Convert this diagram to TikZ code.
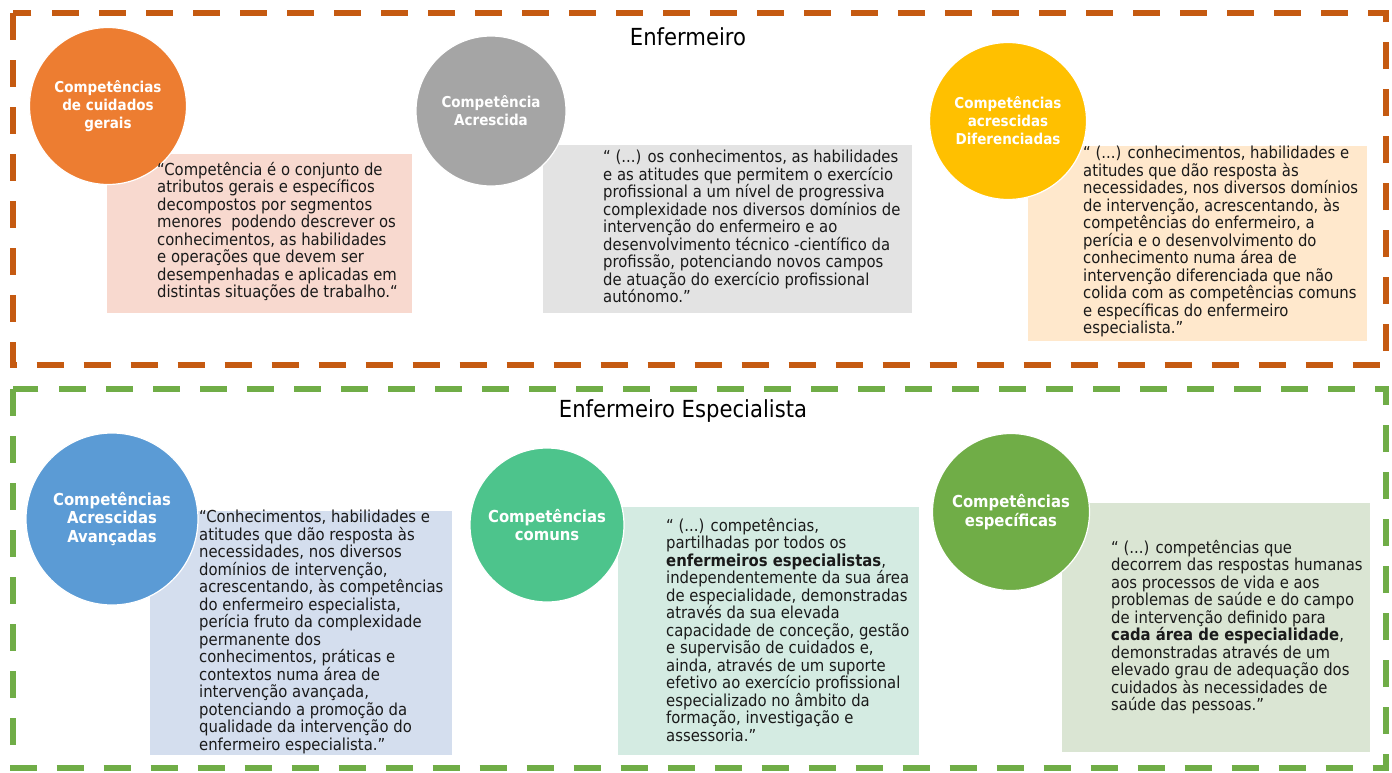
\documentclass[tikz,border=0pt]{standalone}
\usepackage{fontspec}
\setmainfont{DejaVu Sans Condensed}
\definecolor{orangeC}{HTML}{ED7D31}
\definecolor{grayC}{HTML}{A5A5A5}
\definecolor{yellowC}{HTML}{FFC000}
\definecolor{blueC}{HTML}{5B9BD5}
\definecolor{tealC}{HTML}{4DC48C}
\definecolor{greenC}{HTML}{70AD47}
\definecolor{pinkB}{HTML}{F8D9CF}
\definecolor{grayB}{HTML}{E3E3E3}
\definecolor{peachB}{HTML}{FFE8CC}
\definecolor{blueB}{HTML}{D4DEEE}
\definecolor{tealB}{HTML}{D4EBE2}
\definecolor{greenB}{HTML}{DAE5D3}
\definecolor{orangeD}{HTML}{C55A11}
\definecolor{greenD}{HTML}{70AD47}
\definecolor{txtC}{HTML}{1A1A1A}
\begin{document}
\begin{tikzpicture}[x=1pt,y=-1pt,
  frame/.style={line width=6pt, dash pattern=on 27pt off 20pt},
  descbox/.style={rectangle, draw=none, inner sep=0pt, anchor=north west},
  circ/.style={circle, draw=white, line width=1.2pt, inner sep=0pt, text=white, align=center},
  ctop/.style={circ, font=\bfseries\fontsize{15}{18}\selectfont},
  cbot/.style={circ, font=\bfseries\fontsize{16.5}{18.5}\selectfont},
  desctxt/.style={anchor=north west, align=left, inner sep=0pt, text=txtC, font=\fontsize{16.5}{17.5}\selectfont},
  title/.style={inner sep=0pt, font=\fontsize{23.5}{26}\selectfont}
]
\useasboundingbox (0,0) rectangle (1392,772);

% frames
\draw[frame, orangeD] (12.5,13) rectangle (1385.5,365);
\draw[frame, greenD] (12.5,389) rectangle (1385.5,768);

% titles
\node[title] (tt1) at (688,37) {Enfermeiro};
\node[title] (tt2) at (683,411) {Enfermeiro Especialista};

% boxes
\node[descbox, fill=pinkB, minimum width=305pt, minimum height=159pt] (b1) at (107,154) {};
\node[descbox, fill=grayB, minimum width=369pt, minimum height=168pt] (b2) at (543,145) {};
\node[descbox, fill=peachB, minimum width=339pt, minimum height=195pt] (b3) at (1028,146) {};
\node[descbox, fill=blueB, minimum width=302pt, minimum height=244pt] (b4) at (150,511) {};
\node[descbox, fill=tealB, minimum width=301pt, minimum height=248pt] (b5) at (618,507) {};
\node[descbox, fill=greenB, minimum width=308pt, minimum height=249pt] (b6) at (1062,503) {};

% circles
\node[ctop, fill=orangeC, minimum size=157pt] (c1) at (108,106) {Competências\\de cuidados\\gerais};
\node[ctop, fill=grayC, minimum size=150pt] (c2) at (491,111) {Competência\\Acrescida};
\node[ctop, fill=yellowC, minimum size=157pt] (c3) at (1008,121) {Competências\\acrescidas\\Diferenciadas};
\node[cbot, fill=blueC, minimum size=172pt] (c4) at (112,519) {Competências\\Acrescidas\\Avançadas};
\node[cbot, fill=tealC, minimum size=154pt] (c5) at (547,525) {Competências\\comuns};
\node[cbot, fill=greenC, minimum size=157pt] (c6) at (1011,512) {Competências\\específicas};

% texts
\node[desctxt] (t1) at (157,162) {“Competência é o conjunto de\\
atributos gerais e específicos\\
decompostos por segmentos\\
menores\ \ podendo descrever os\\
conhecimentos, as habilidades\\
e operações que devem ser\\
desempenhadas e aplicadas em\\
distintas situações de trabalho.“};

\node[desctxt] (t2) at (603,150) {“ (...) os conhecimentos, as habilidades\\
e as atitudes que permitem o exercício\\
profissional a um nível de progressiva\\
complexidade nos diversos domínios de\\
intervenção do enfermeiro e ao\\
desenvolvimento técnico -científico da\\
profissão, potenciando novos campos\\
de atuação do exercício profissional\\
autónomo.”};

\node[desctxt] (t3) at (1083,146) {“ (...) conhecimentos, habilidades e\\
atitudes que dão resposta às\\
necessidades, nos diversos domínios\\
de intervenção, acrescentando, às\\
competências do enfermeiro, a\\
perícia e o desenvolvimento do\\
conhecimento numa área de\\
intervenção diferenciada que não\\
colida com as competências comuns\\
e específicas do enfermeiro\\
especialista.”};

\node[desctxt] (t4) at (199,510) {“Conhecimentos, habilidades e\\
atitudes que dão resposta às\\
necessidades, nos diversos\\
domínios de intervenção,\\
acrescentando, às competências\\
do enfermeiro especialista,\\
perícia fruto da complexidade\\
permanente dos\\
conhecimentos, práticas e\\
contextos numa área de\\
intervenção avançada,\\
potenciando a promoção da\\
qualidade da intervenção do\\
enfermeiro especialista.”};

\node[desctxt] (t5) at (666,518) {“ (...) competências,\\
partilhadas por todos os\\
\textbf{enfermeiros especialistas},\\
independentemente da sua área\\
de especialidade, demonstradas\\
através da sua elevada\\
capacidade de conceção, gestão\\
e supervisão de cuidados e,\\
ainda, através de um suporte\\
efetivo ao exercício profissional\\
especializado no âmbito da\\
formação, investigação e\\
assessoria.”};

\node[desctxt] (t6) at (1111,540) {“ (...) competências que\\
decorrem das respostas humanas\\
aos processos de vida e aos\\
problemas de saúde e do campo\\
de intervenção definido para\\
\textbf{cada área de especialidade},\\
demonstradas através de um\\
elevado grau de adequação dos\\
cuidados às necessidades de\\
saúde das pessoas.”};
\end{tikzpicture}
\end{document}
